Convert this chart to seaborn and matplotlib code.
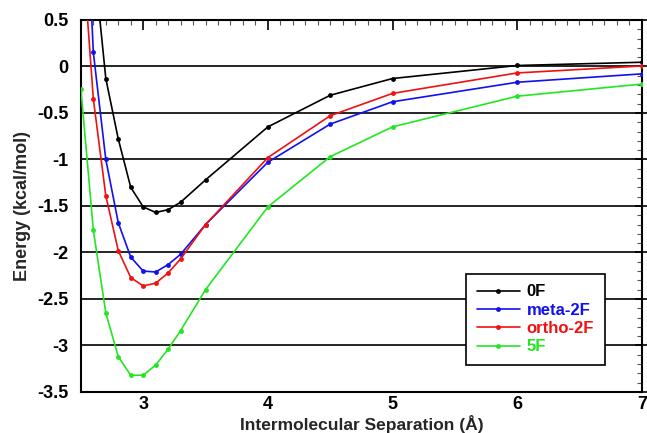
import numpy as np
import pandas as pd
import matplotlib
matplotlib.use('Agg')
import matplotlib.pyplot as plt
import seaborn as sns
from matplotlib.ticker import MultipleLocator

# separations (Å) and energies (kcal/mol)
x_0f = [2.6, 2.7, 2.8, 2.9, 3.0, 3.1, 3.2, 3.3, 3.5, 4.0, 4.5, 5.0, 6.0, 7.0]
e_0f = [1.2, -0.13, -0.78, -1.30, -1.51, -1.57, -1.54, -1.46, -1.22, -0.65, -0.31, -0.13, 0.01, 0.045]

x_meta = [2.5, 2.6, 2.7, 2.8, 2.9, 3.0, 3.1, 3.2, 3.3, 3.5, 4.0, 4.5, 5.0, 6.0, 7.0]
e_meta = [3.0, 0.15, -1.00, -1.68, -2.05, -2.20, -2.21, -2.13, -2.02, -1.70, -1.03, -0.62, -0.38, -0.17, -0.08]

x_ortho = [2.5, 2.6, 2.7, 2.8, 2.9, 3.0, 3.1, 3.2, 3.3, 3.5, 4.0, 4.5, 5.0, 6.0, 7.0]
e_ortho = [1.5, -0.35, -1.39, -1.98, -2.27, -2.36, -2.33, -2.22, -2.07, -1.70, -0.98, -0.53, -0.29, -0.07, 0.005]

x_5f = [2.5, 2.6, 2.7, 2.8, 2.9, 3.0, 3.1, 3.2, 3.3, 3.5, 4.0, 4.5, 5.0, 6.0, 7.0]
e_5f = [-0.24, -1.76, -2.65, -3.12, -3.32, -3.32, -3.21, -3.04, -2.84, -2.40, -1.51, -0.97, -0.65, -0.32, -0.19]

series = ['0F', 'meta-2F', 'ortho-2F', '5F']
colors = ['black', '#1010f0', '#f01010', '#22e622']
ytick_labels = ['-3.5', '-3', '-2.5', '-2', '-1.5', '-1', '-0.5', '0', '0.5']

df = pd.concat([
    pd.DataFrame({'sep': x_0f, 'energy': e_0f, 'system': '0F'}),
    pd.DataFrame({'sep': x_meta, 'energy': e_meta, 'system': 'meta-2F'}),
    pd.DataFrame({'sep': x_ortho, 'energy': e_ortho, 'system': 'ortho-2F'}),
    pd.DataFrame({'sep': x_5f, 'energy': e_5f, 'system': '5F'}),
], ignore_index=True)

sns.set_style('white')
plt.rcParams['font.family'] = ['Liberation Sans', 'DejaVu Sans']

fig = plt.figure(figsize=(6.47, 4.33), dpi=100)
ax = fig.add_axes([0.125, 0.0947, 0.867, 0.8593])

# horizontal grid lines at the major y ticks
for yv in np.arange(-3.0, 0.5, 0.5):
    ax.axhline(yv, color='black', lw=1.2, zorder=0)

sns.lineplot(data=df, x='sep', y='energy', hue='system', hue_order=series,
             palette=dict(zip(series, colors)), marker='o', markersize=3.5,
             markeredgewidth=0, lw=1.2, sort=True, ax=ax, zorder=3)

ax.set_xlim(2.5, 7)
ax.set_ylim(-3.5, 0.5)
ax.xaxis.set_major_locator(MultipleLocator(1))
ax.xaxis.set_minor_locator(MultipleLocator(0.1))
ax.yaxis.set_minor_locator(MultipleLocator(0.1))
ax.set_yticks(np.arange(-3.5, 0.51, 0.5))
ax.set_yticklabels(ytick_labels)

ax.tick_params(axis='y', which='major', direction='inout', length=10, width=1.2,
               colors='black', right=True, labelsize=13, pad=4)
ax.tick_params(axis='x', which='major', direction='in', length=7, width=1.2,
               colors='black', top=True, labelsize=13, pad=3)
ax.tick_params(which='minor', direction='in', length=3.5, width=0.8, colors='#555555',
               top=True, right=True)
for lbl in ax.get_xticklabels() + ax.get_yticklabels():
    lbl.set_fontweight('bold')

for s in ax.spines.values():
    s.set_color('black')
    s.set_linewidth(1.5)

ax.set_xlabel('Intermolecular Separation (Å)', fontsize=12.5, fontweight='bold', labelpad=1)
ax.set_ylabel('Energy (kcal/mol)', fontsize=13, fontweight='bold', labelpad=4)

leg = ax.legend(loc='lower right', bbox_to_anchor=(0.934, 0.072), frameon=True,
                fancybox=False, edgecolor='black', framealpha=1,
                prop={'weight': 'bold', 'size': 12}, handlelength=2.6,
                borderpad=0.65, labelspacing=0.2, handletextpad=0.4,
                borderaxespad=0)
leg.get_frame().set_linewidth(1.2)
for txt, c in zip(leg.get_texts(), colors):
    txt.set_color(c)

fig.savefig('out.png', dpi=100)
